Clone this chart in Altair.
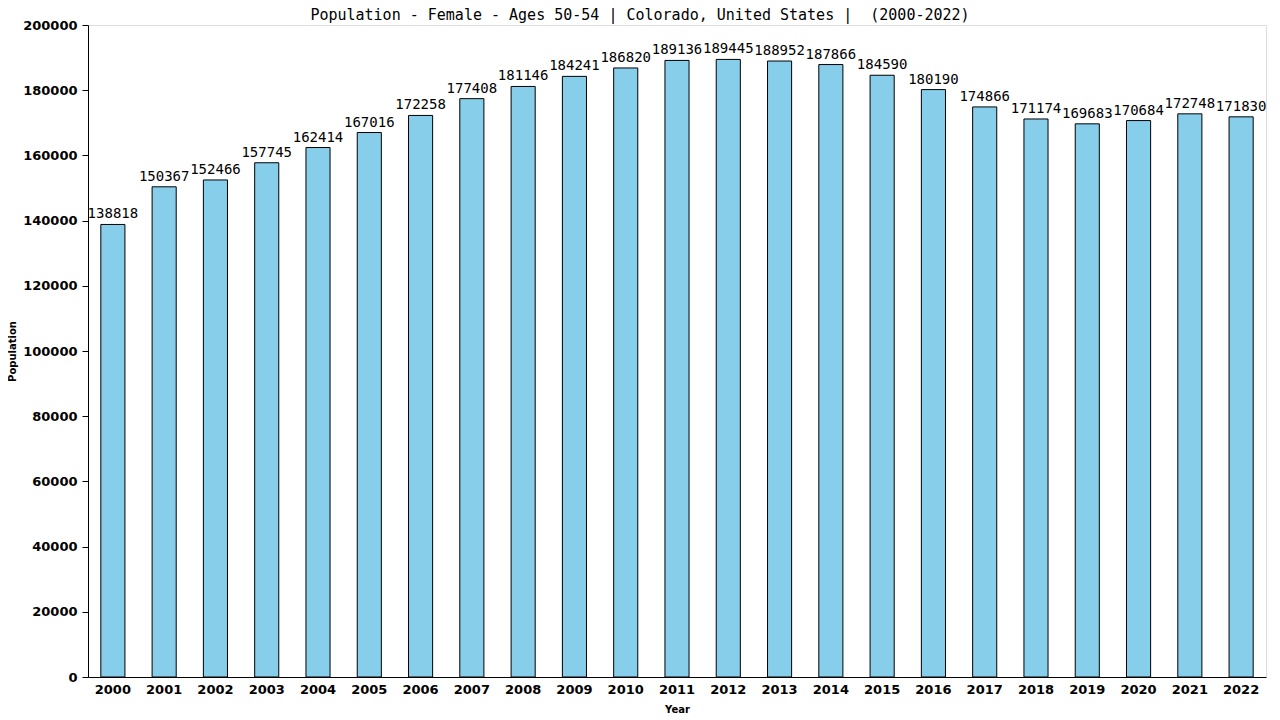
import altair as alt
import pandas as pd

years = [str(y) for y in range(2000, 2023)]
values = [138818, 150367, 152466, 157745, 162414, 167016, 172258, 177408, 181146,
          184241, 186820, 189136, 189445, 188952, 187866, 184590, 180190, 174866,
          171174, 169683, 170684, 172748, 171830]

df = pd.DataFrame({"Year": years, "Population": values})

x = alt.X("Year:N", title="Year",
          scale=alt.Scale(paddingInner=0.53, paddingOuter=0.25),
          axis=alt.Axis(labelAngle=0, ticks=False, domainColor="black",
                        labelFont="DejaVu Sans", labelFontSize=13, labelFontWeight="bold",
                        labelColor="black", labelPadding=6,
                        titleFont="DejaVu Sans", titleFontSize=10, titleFontWeight="bold",
                        titlePadding=8))
y = alt.Y("Population:Q", title="Population",
          scale=alt.Scale(domain=[0, 200000], nice=False),
          axis=alt.Axis(values=list(range(0, 200001, 20000)), grid=False,
                        domainColor="black", tickColor="black", tickSize=6,
                        labelFont="DejaVu Sans", labelFontSize=13, labelFontWeight="bold",
                        labelColor="black", labelPadding=5, format="d",
                        titleFont="DejaVu Sans", titleFontSize=10, titleFontWeight="bold",
                        titlePadding=5))

bars = alt.Chart(df).mark_bar(color="#87CEEB", stroke="black", strokeWidth=1).encode(x=x, y=y)
labels = alt.Chart(df).mark_text(baseline="bottom", dy=-3, font="DejaVu Sans Mono",
                                 fontSize=14, color="black").encode(
    x="Year:N", y="Population:Q", text="Population:Q")

title_text = "Population - Female - Ages 50-54 | Colorado, United States |\u00a0 (2000-2022)"

chart = (bars + labels).properties(
    width=1178, height=652,
    title=alt.TitleParams(title_text,
                          font="DejaVu Sans Mono", fontSize=15, fontWeight="normal",
                          color="black", anchor="middle", offset=-4, dx=-37),
    autosize=alt.AutoSizeParams(type="none"),
    padding={"left": 80, "top": 17, "right": 6, "bottom": 40},
).configure_view(stroke=None).configure(background="white")

chart.save("out.html", embed_options={"renderer": "svg", "actions": False})
